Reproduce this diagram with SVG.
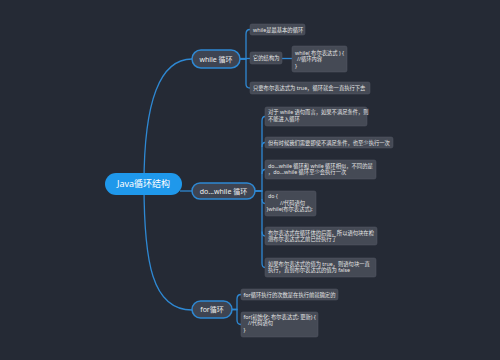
<svg xmlns="http://www.w3.org/2000/svg" width="500" height="360" viewBox="0 0 500 360">
<style>
.bg{fill:#252a35}
.ln{fill:none;stroke:#2e88d3;stroke-width:1.3}
.root{fill:#1f98eb}
.br{fill:#3e4452;stroke:#2e88d3;stroke-width:1.5}
.lf{fill:#454a55;stroke:#555b66;stroke-width:0.5}
text{font-family:"Noto Sans","Noto Sans CJK SC",sans-serif}
.rt{font-size:9px;fill:#ffffff}
.bt{font-size:7px;fill:#f0f0f0}
.lt{font-size:5.3px;fill:#e6e6e6}
</style>
<rect class="bg" x="0" y="0" width="500" height="360"/>
<g id="connectors">
<path class="ln" d="M144,184 Q144,59 192,59"/>
<path class="ln" d="M144,184 C144,262 152,310 192,310"/>
<path class="ln" d="M180,191 H192"/>
<path class="ln" d="M240,59 H246 V34 Q246,29.5 250,29.5"/>
<path class="ln" d="M240,59 H246 V84 Q246,88 250,88"/>
<path class="ln" d="M240,58.5 H250"/>
<path class="ln" d="M282,58.5 H292"/>
<path class="ln" d="M255,191 H262 V121 Q262,116.5 265,116.5"/>
<path class="ln" d="M262,147 Q262,142.5 265,142.5"/>
<path class="ln" d="M262,174 Q262,169.5 265,169.5"/>
<path class="ln" d="M262,199 Q262,203.5 265,203.5"/>
<path class="ln" d="M255,191 H262 V263 Q262,267.5 265,267.5"/>
<path class="ln" d="M262,231.5 Q262,236 265,236"/>
<path class="ln" d="M232,309.5 H237 V299 Q237,294.5 241,294.5"/>
<path class="ln" d="M232,309.5 H237 V320 Q237,324.5 241,324.5"/>
</g>
<g id="root">
<rect class="root" x="105" y="173" width="77" height="22" rx="11"/>
<text class="rt" x="143.5" y="187.2" text-anchor="middle">Java循环结构</text>
</g>
<g id="while">
<rect class="br" x="192" y="50" width="48" height="18" rx="9"/>
<text class="bt" x="216" y="61.5" text-anchor="middle">while 循环</text>
</g>
<g id="dowhile">
<rect class="br" x="192" y="183" width="63" height="16" rx="8"/>
<text class="bt" x="223.5" y="193.5" text-anchor="middle">do...while 循环</text>
</g>
<g id="for">
<rect class="br" x="192" y="301" width="40" height="17" rx="8.5"/>
<text class="bt" x="212" y="312" text-anchor="middle">for循环</text>
</g>
<g id="w1">
<rect class="lf" x="250" y="24" width="55" height="11" rx="2"/>
<text class="lt" x="253" y="31.5">while是最基本的循环</text>
</g>
<g id="w2">
<rect class="lf" x="250" y="52" width="32" height="12" rx="2"/>
<text class="lt" x="253" y="60">它的结构为</text>
</g>
<g id="w2a">
<rect class="lf" x="292" y="46" width="55" height="26" rx="2"/>
<text class="lt" x="295" y="54.5">while( 布尔表达式 ) {</text>
<text class="lt" x="297" y="61">//循环内容</text>
<text class="lt" x="295" y="67.5">}</text>
</g>
<g id="w3">
<rect class="lf" x="250" y="82" width="120" height="12" rx="2"/>
<text class="lt" x="253" y="90">只要布尔表达式为 true，循环就会一直执行下去</text>
</g>
<g id="d1">
<rect class="lf" x="265" y="107" width="102" height="19" rx="2"/>
<text class="lt" x="268" y="114.3">对于 while 语句而言，如果不满足条件，则</text>
<text class="lt" x="268" y="121">不能进入循环</text>
</g>
<g id="d2">
<rect class="lf" x="265" y="137" width="128" height="11" rx="2"/>
<text class="lt" x="268" y="144.5">但有时候我们需要即使不满足条件，也至少执行一次</text>
</g>
<g id="d3">
<rect class="lf" x="265" y="160" width="111" height="19" rx="2"/>
<text class="lt" x="268" y="167.7">do...while 循环和 while 循环相似，不同的是</text>
<text class="lt" x="268" y="174.3">，do...while 循环至少会执行一次</text>
</g>
<g id="d4">
<rect class="lf" x="265" y="191" width="51" height="25" rx="2"/>
<text class="lt" x="268" y="198">do {</text>
<text class="lt" x="280" y="204.5">//代码语句</text>
<text class="lt" x="266.5" y="211">}while(布尔表达式);</text>
</g>
<g id="d5">
<rect class="lf" x="265" y="227" width="112" height="18" rx="2"/>
<text class="lt" x="268" y="234.6">布尔表达式在循环体的后面，所以语句块在检</text>
<text class="lt" x="268" y="241.4">测布尔表达式之前已经执行了</text>
</g>
<g id="d6">
<rect class="lf" x="265" y="258" width="111" height="19" rx="2"/>
<text class="lt" x="268" y="265.5">如果布尔表达式的值为 true，则语句块一直</text>
<text class="lt" x="268" y="272">执行，直到布尔表达式的值为 false</text>
</g>
<g id="f1">
<rect class="lf" x="241" y="289" width="97" height="11" rx="2"/>
<text class="lt" x="243.5" y="296.5">for循环执行的次数是在执行前就确定的</text>
</g>
<g id="f2">
<rect class="lf" x="241" y="312" width="77" height="25" rx="2"/>
<text class="lt" x="243.5" y="318.5">for(初始化; 布尔表达式; 更新) {</text>
<text class="lt" x="248" y="325">//代码语句</text>
<text class="lt" x="243.5" y="331.5">}</text>
</g>
</svg>
